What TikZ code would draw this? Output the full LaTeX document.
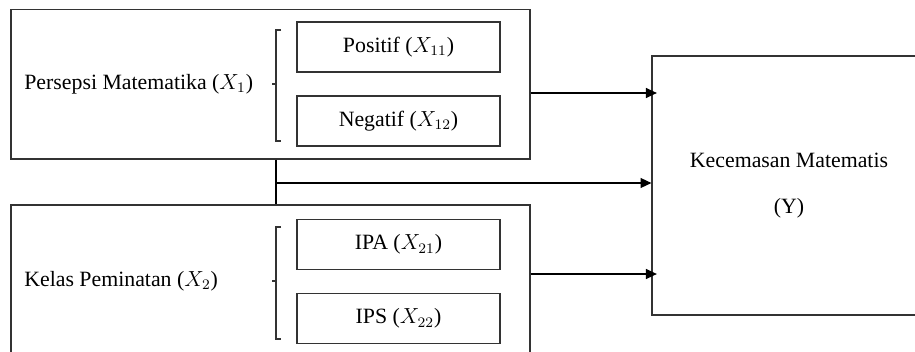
\documentclass[tikz,border=0pt]{standalone}
\usepackage{fontspec}
\setmainfont{Liberation Serif}
\usetikzlibrary{arrows.meta}
\begin{document}
\begin{tikzpicture}[x=0.55pt, y=-0.55pt,
    box/.style={draw=black!80, line width=0.65pt, inner sep=0pt},
    outer/.style={box, minimum width=285.45pt, minimum height=82.2pt},
    sub/.style={box, minimum width=111.65pt, minimum height=27.5pt},
    arr/.style={-{Triangle[length=6pt,width=5.5pt]}, line width=0.65pt},
    font=\fontsize{12}{14}\selectfont]
    \clip (0,0) rectangle (915,351);
    % kotak variabel bebas
    \node[outer] (x1) at (270.5,84.25) {};
    \node[outer] (x2) at (270.5,279.75) {};
    \node[anchor=west, inner sep=0pt] (t1) at (24,84) {Persepsi Matematika ($X_1$)};
    \node[anchor=west, inner sep=0pt] (t2) at (24,281) {Kelas Peminatan ($X_2$)};
    \node[sub] (x11) at (398.5,47) {Positif ($X_{11}$)};
    \node[sub] (x12) at (398.5,121) {Negatif ($X_{12}$)};
    \node[sub] (x21) at (398.5,244.5) {IPA ($X_{21}$)};
    \node[sub] (x22) at (398.5,318.5) {IPS ($X_{22}$)};
    % kurung
    \draw[black!80, line width=0.65pt] (281,30) -- (276,30) -- (276,141) -- (281,141) (276,84) -- (272,84);
    \draw[black!80, line width=0.65pt] (281,227) -- (276,227) -- (276,339) -- (281,339) (276,281) -- (272,281);
    % variabel terikat
    \node[box, minimum width=150.7pt, minimum height=142.45pt, align=center] (y) at (789,185.5)
        {Kecemasan Matematis\\[11pt](Y)};
    % panah
    \coordinate (j) at (276,183);
    \draw[line width=0.65pt] (x1.south -| j) -- (x2.north -| j);
    \draw[arr] (j) -- (j -| y.west);
    \draw[arr] (x1.east |- 0,93) -- ([xshift=3pt]y.west |- 0,93);
    \draw[arr] (x2.east |- 0,274) -- ([xshift=3pt]y.west |- 0,274);
\end{tikzpicture}
\end{document}
